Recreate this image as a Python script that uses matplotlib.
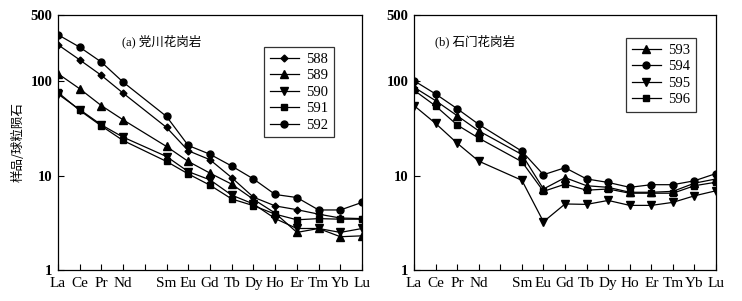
import matplotlib.pyplot as plt
import matplotlib
import numpy as np

matplotlib.rcParams['font.family'] = ['Liberation Serif', 'Noto Sans CJK SC']
matplotlib.rcParams['axes.unicode_minus'] = False

# 稀土元素 (Pm 空位)
elements = ['La', 'Ce', 'Pr', 'Nd', '', 'Sm', 'Eu', 'Gd', 'Tb', 'Dy', 'Ho', 'Er', 'Tm', 'Yb', 'Lu']
ree_pos = [0, 1, 2, 3, 5, 6, 7, 8, 9, 10, 11, 12, 13, 14]

# (a) 党川花岗岩
s588 = [243, 168, 115, 74.6, 32.3, 18.3, 14.7, 9.5, 5.9, 4.77, 4.35, 3.9, 3.55, 3.5]
s589 = [120, 83, 55, 38.9, 20.3, 14.1, 10.6, 8.1, 5.6, 4.0, 2.5, 2.75, 2.25, 2.3]
s590 = [73, 50, 34.4, 25.5, 15.9, 11.0, 9.0, 6.2, 5.0, 3.5, 2.75, 2.75, 2.5, 2.75]
s591 = [76, 49, 33.5, 23.5, 14.1, 10.4, 7.9, 5.65, 4.8, 3.9, 3.4, 3.5, 3.45, 3.45]
s592 = [310, 229, 159, 97.6, 42.2, 20.8, 16.8, 12.6, 9.2, 6.3, 5.85, 4.32, 4.32, 5.2]

# (b) 石门花岗岩
s593 = [86, 62, 43, 29.7, 16.7, 7.2, 9.5, 7.8, 7.5, 6.65, 6.65, 6.8, 8.3, 9.2]
s594 = [100.8, 73, 51, 34.8, 18.1, 10.2, 12.1, 9.2, 8.45, 7.5, 8.0, 8.0, 8.8, 10.5]
s595 = [55, 35.6, 22, 14.2, 8.9, 3.24, 5.0, 4.95, 5.45, 4.83, 4.83, 5.2, 6.1, 6.9]
s596 = [80, 54.5, 34.3, 24.9, 14.0, 6.8, 8.1, 7.0, 7.2, 6.5, 6.5, 6.5, 7.8, 8.5]

fig = plt.figure(figsize=(7.42, 3.01), dpi=100)
ax1 = fig.add_axes([0.078, 0.103, 0.410, 0.847])
ax2 = fig.add_axes([0.558, 0.103, 0.407, 0.847])

style = {'color': 'black', 'lw': 0.9, 'markerfacecolor': 'black', 'markeredgecolor': 'black'}

ax1.plot(ree_pos, s588, marker='D', ms=3.5, label='588', **style)
ax1.plot(ree_pos, s589, marker='^', ms=5.5, label='589', **style)
ax1.plot(ree_pos, s590, marker='v', ms=5.5, label='590', **style)
ax1.plot(ree_pos, s591, marker='s', ms=5, label='591', **style)
ax1.plot(ree_pos, s592, marker='o', ms=5, label='592', **style)

ax2.plot(ree_pos, s593, marker='^', ms=5.5, label='593', **style)
ax2.plot(ree_pos, s594, marker='o', ms=5, label='594', **style)
ax2.plot(ree_pos, s595, marker='v', ms=5.5, label='595', **style)
ax2.plot(ree_pos, s596, marker='s', ms=5, label='596', **style)

for ax in (ax1, ax2):
    ax.set_yscale('log')
    ax.set_ylim(1, 500)
    ax.set_xlim(0, 14)
    ax.set_yticks([1, 10, 100, 500])
    ax.set_yticklabels(['1', '10', '100', '500'], fontsize=10.5, fontweight='bold')
    ax.yaxis.set_minor_locator(matplotlib.ticker.NullLocator())
    ax.set_xticks(range(15))
    ax.set_xticklabels(elements, fontsize=11)
    ax.tick_params(direction='in', length=4, width=0.8)
    ax.tick_params(axis='x', pad=5)
    ax.tick_params(axis='y', pad=4)
    for sp in ax.spines.values():
        sp.set_linewidth(0.9)

ax1.set_ylabel('样品/球粒陨石', fontsize=9, family=['Noto Sans CJK SC'])
ax1.text(0.21, 0.88, '(a) 党川花岗岩', transform=ax1.transAxes, fontsize=9,
         family=['Liberation Serif', 'Noto Sans CJK SC'])
ax2.text(0.07, 0.88, '(b) 石门花岗岩', transform=ax2.transAxes, fontsize=9,
         family=['Liberation Serif', 'Noto Sans CJK SC'])

leg_kw = dict(fontsize=10.5, frameon=True, fancybox=False, edgecolor='black',
              handlelength=2.0, labelspacing=0.22, borderpad=0.4, handletextpad=0.5,
              borderaxespad=0)
l1 = ax1.legend(loc='upper right', bbox_to_anchor=(0.908, 0.875), **leg_kw)
l2 = ax2.legend(loc='upper right', bbox_to_anchor=(0.934, 0.91), **leg_kw)
for lg in (l1, l2):
    lg.get_frame().set_linewidth(0.9)

plt.savefig('out.png', dpi=100)
